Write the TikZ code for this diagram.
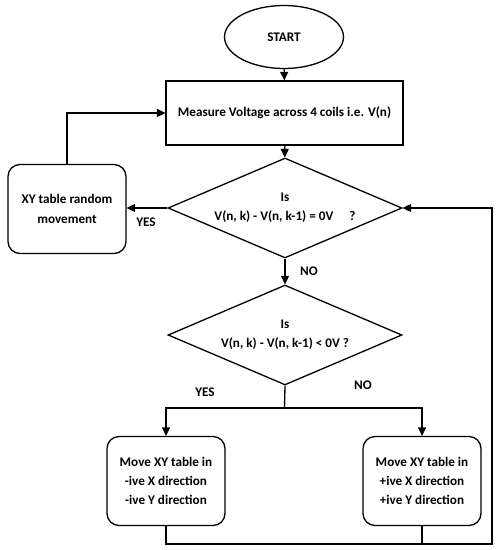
\documentclass[tikz,border=0pt]{standalone}
\usepackage{fontspec}
\setmainfont{Carlito}
\usetikzlibrary{shapes.geometric,arrows.meta}

\begin{document}
\begin{tikzpicture}[x=0.02cm,y=-0.02cm,line width=0.75pt,
	>={Triangle[length=1.7mm,width=1.6mm]},
	txt/.style={font=\fontsize{7.5}{11}\selectfont\bfseries,align=center},
	startnode/.style={txt,draw,ellipse,minimum width=2.38cm,minimum height=1.26cm,inner sep=0pt},
	procbox/.style={txt,draw,rectangle,minimum width=4.74cm,minimum height=1.28cm,inner sep=0pt},
	movebox/.style={txt,draw,rectangle,rounded corners=0.24cm,minimum width=2.36cm,minimum height=1.78cm,inner sep=0pt},
	testnode/.style={txt,draw,diamond,aspect=2.34,minimum width=4.68cm,minimum height=2cm,inner sep=0pt},
	lbl/.style={txt}]
			\useasboundingbox (0,0) rectangle (500,550);
			% boxes
			\node[startnode] (start) at (284,37) {START};
			\node[procbox] (measure) at (284.5,113) {Measure Voltage across 4 coils i.e. V(n)};
			\node[testnode] (iszero) at (285,208) {Is\\V(n, k) - V(n, k-1) = 0V\quad\ ?};
			\node[movebox] (random) at (67,209) {XY table random\\movement};
			\node[testnode] (isneg) at (285,335) {Is\\V(n, k) - V(n, k-1) < 0V ?};
			\node[movebox] (moveneg) at (166,481) {Move XY table in\\-ive X direction\\-ive Y direction};
			\node[movebox] (movepos) at (422,481) {Move XY table in\\+ive X direction\\+ive Y direction};
			\coordinate (split) at (284.5,408);
			\coordinate (loop) at (492,544);
			% connectors
			\draw[->] (start) -- (measure);
			\draw[->] (measure) -- (iszero);
			\draw[->] (iszero.west) -- (iszero.west -| random.east);
			\draw[->] (random.north) |- (measure.west);
			\draw[->] (iszero.south) -- (isneg.north);
			\draw (isneg.south) -- (split);
			\draw[->] (split) -| (moveneg.north);
			\draw[->] (split) -| (movepos.north);
			\draw[->] (moveneg.south) |- (loop) |- (iszero.east);
			\draw (movepos.south) -- (movepos.south |- loop);
			% labels
			\node[lbl] (yes1) at (146,222) {YES};
			\node[lbl] (no1) at (309,271) {NO};
			\node[lbl] (yes2) at (205,392) {YES};
			\node[lbl] (no2) at (363,385) {NO};
\end{tikzpicture}
\end{document}
